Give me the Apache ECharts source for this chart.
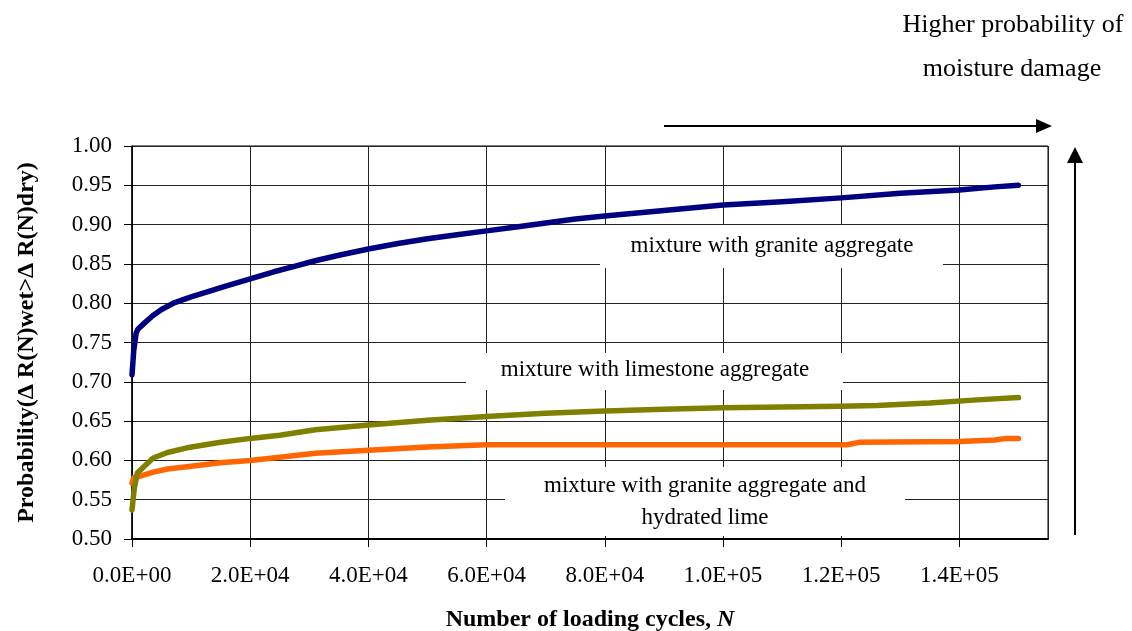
<!DOCTYPE html>
<html>
<head>
<meta charset="utf-8">
<script src="https://cdn.jsdelivr.net/npm/echarts@6/dist/echarts.min.js"></script>
<style>
html,body{margin:0;padding:0;background:#fff;}
#chart{width:1132px;height:631px;}
</style>
</head>
<body>
<div id="chart"></div>
<script>
// ---------- data ----------
var seriesNames = ['mixture with granite aggregate', 'mixture with granite aggregate and hydrated lime', 'mixture with limestone aggregate'];

var nGranite = [0, 300, 700, 1000, 2000, 3500, 5000, 7000, 10000, 13000, 16000, 20000, 24000, 27000, 31000, 35000, 40000, 45000, 50000, 55000, 60000, 65000, 70000, 75000, 80000, 90000, 100000, 110000, 120000, 130000, 140000, 146000, 150000];
var pGranite = [0.709, 0.740, 0.762, 0.767, 0.774, 0.784, 0.792, 0.800, 0.808, 0.815, 0.822, 0.831, 0.840, 0.846, 0.854, 0.861, 0.869, 0.876, 0.882, 0.887, 0.892, 0.897, 0.902, 0.907, 0.911, 0.918, 0.925, 0.929, 0.934, 0.940, 0.944, 0.948, 0.950];

var nLime = [0, 300, 1400, 3600, 6000, 9300, 14900, 20000, 25000, 31000, 40000, 50000, 60000, 70000, 80000, 90000, 100000, 110000, 121000, 123000, 140000, 146000, 148000, 150000];
var pLime = [0.571, 0.578, 0.580, 0.585, 0.589, 0.592, 0.597, 0.600, 0.604, 0.609, 0.613, 0.617, 0.620, 0.620, 0.620, 0.620, 0.620, 0.620, 0.620, 0.623, 0.624, 0.626, 0.628, 0.628];

var nLimestone = [0, 400, 900, 2000, 3600, 6000, 9300, 15000, 20000, 25000, 31000, 40000, 50000, 60000, 70000, 80000, 90000, 100000, 110000, 120000, 126000, 135000, 143000, 150000];
var pLimestone = [0.537, 0.565, 0.584, 0.592, 0.603, 0.610, 0.616, 0.623, 0.628, 0.632, 0.639, 0.645, 0.651, 0.656, 0.660, 0.663, 0.665, 0.667, 0.668, 0.669, 0.670, 0.673, 0.677, 0.680];

var xTicks = [0, 20000, 40000, 60000, 80000, 100000, 120000, 140000];
var xTickLabels = ['0.0E+00', '2.0E+04', '4.0E+04', '6.0E+04', '8.0E+04', '1.0E+05', '1.2E+05', '1.4E+05'];
var yTicks = [0.50, 0.55, 0.60, 0.65, 0.70, 0.75, 0.80, 0.85, 0.90, 0.95, 1.00];
var yTickLabels = ['0.50', '0.55', '0.60', '0.65', '0.70', '0.75', '0.80', '0.85', '0.90', '0.95', '1.00'];

var xTitle = 'Number of loading cycles, ';
var xTitleVar = 'N';
var yTitle = 'Probability(\u0394 R(N)wet>\u0394 R(N)dry)';
var noteLine1 = 'Higher probability of';
var noteLine2 = 'moisture damage';

// ---------- build ----------
function pairs(xs, ys) { return xs.map(function (x, i) { return [x, ys[i]]; }); }

var FONT = '"Liberation Serif", "Times New Roman", serif';
var chart = echarts.init(document.getElementById('chart'), null, { renderer: 'canvas' });

function lineSeries(name, data, color) {
  return {
    name: name, type: 'line', data: data, showSymbol: false, symbol: 'none',
    smooth: false, animation: false, z: 3,
    lineStyle: { color: color, width: 5.5, cap: 'round', join: 'round' }
  };
}

function cText(x, y, text, size) {
  return { type: 'text', x: x, y: y, z: 5,
    style: { text: text, font: (size || 23) + 'px ' + FONT, fill: '#000', align: 'center', verticalAlign: 'middle', textAlign: 'center', textVerticalAlign: 'middle' } };
}

var option = {
  animation: false,
  backgroundColor: '#fff',
  grid: { left: 132, top: 146, width: 916, height: 393, outerBoundsMode: 'none', containLabel: false,
          show: true, borderColor: '#000', borderWidth: 1, backgroundColor: 'transparent' },
  xAxis: {
    type: 'value', min: 0, max: 155000, interval: 20000,
    axisLine: { show: true, onZero: false, lineStyle: { color: '#000', width: 2 } },
    axisTick: { show: true, inside: false, length: 8, lineStyle: { color: '#000', width: 1 } },
    splitLine: { show: true, lineStyle: { color: '#222', width: 1 } },
    axisLabel: {
      margin: 25, fontFamily: FONT, fontSize: 23, color: '#000', showMaxLabel: false,
      formatter: function (v) { var i = xTicks.indexOf(v); return i >= 0 ? xTickLabels[i] : ''; }
    },
    name: '{b|' + xTitle + '}{bi|' + xTitleVar + '}', nameLocation: 'middle', nameGap: 69,
    nameTextStyle: {
      rich: {
        b: { fontFamily: FONT, fontSize: 24, fontWeight: 'bold', color: '#000' },
        bi: { fontFamily: FONT, fontSize: 24, fontWeight: 'bold', fontStyle: 'italic', color: '#000' }
      }
    }
  },
  yAxis: {
    type: 'value', min: 0.5, max: 1.0, interval: 0.05,
    axisLine: { show: true, onZero: false, lineStyle: { color: '#000', width: 1.5 } },
    axisTick: { show: true, inside: false, length: 8, lineStyle: { color: '#000', width: 1 } },
    splitLine: { show: true, lineStyle: { color: '#222', width: 1 } },
    axisLabel: {
      margin: 20, fontFamily: FONT, fontSize: 23, color: '#000',
      formatter: function (v) {
        for (var i = 0; i < yTicks.length; i++) { if (Math.abs(yTicks[i] - v) < 1e-6) return yTickLabels[i]; }
        return '';
      }
    },
    name: yTitle, nameLocation: 'middle', nameGap: 93, nameRotate: 90,
    nameTextStyle: { fontFamily: FONT, fontSize: 24, fontWeight: 'bold', color: '#000' }
  },
  series: [
    lineSeries(seriesNames[0], pairs(nGranite, pGranite), '#000080'),
    lineSeries(seriesNames[1], pairs(nLime, pLime), '#FF6600'),
    lineSeries(seriesNames[2], pairs(nLimestone, pLimestone), '#808000')
  ],
  graphic: [
    // label boxes (white backgrounds hide the grid lines)
    { type: 'rect', x: 600, y: 225, z: 4, shape: { x: 0, y: 0, width: 343, height: 43 }, style: { fill: '#fff' } },
    cText(772, 246, seriesNames[0]),
    { type: 'rect', x: 466, y: 353, z: 4, shape: { x: 0, y: 0, width: 377, height: 37 }, style: { fill: '#fff' } },
    cText(655, 370, seriesNames[2]),
    { type: 'rect', x: 505, y: 467, z: 4, shape: { x: 0, y: 0, width: 400, height: 69 }, style: { fill: '#fff' } },
    cText(705, 486, 'mixture with granite aggregate and'),
    cText(705, 518, 'hydrated lime'),
    // annotation text
    cText(1013, 25, noteLine1, 26),
    cText(1012, 69, noteLine2, 26),
    // arrows
    { type: 'line', z: 5, shape: { x1: 664, y1: 126, x2: 1040, y2: 126 }, style: { stroke: '#000', lineWidth: 2 } },
    { type: 'polygon', z: 5, shape: { points: [[1036, 119], [1052, 126], [1036, 133]] }, style: { fill: '#000' } },
    { type: 'line', z: 5, shape: { x1: 1075, y1: 535, x2: 1075, y2: 160 }, style: { stroke: '#000', lineWidth: 2 } },
    { type: 'polygon', z: 5, shape: { points: [[1067, 163], [1075, 147], [1083, 163]] }, style: { fill: '#000' } }
  ]
};
chart.setOption(option);
</script>
</body>
</html>
